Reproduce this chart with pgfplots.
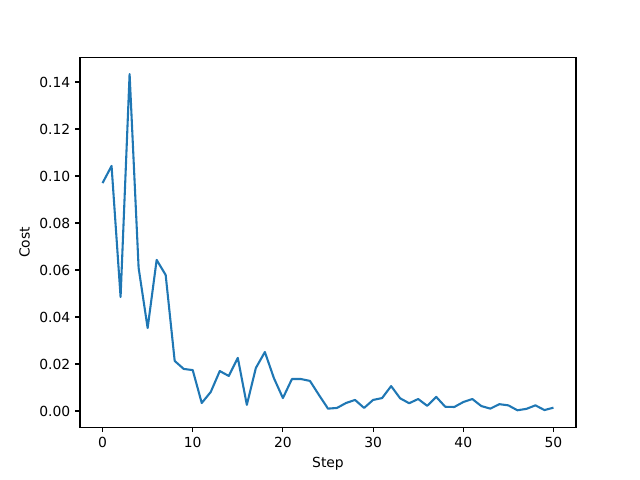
\documentclass[border=0pt]{standalone}
\usepackage{pgfplots}
\pgfplotsset{compat=1.18}
\usepackage{fontspec}
\setmainfont{DejaVu Sans}
\definecolor{mplblue}{HTML}{1F77B4}
\begin{document}
\begin{tikzpicture}
\path[use as bounding box] (-57.6pt,-38.016pt) rectangle (403.2pt,307.584pt);
\begin{axis}[
  at={(0,0)}, anchor=south west,
  scale only axis, width=357.12pt, height=266.112pt,
  xmin=-2.5, xmax=52.5, ymin=-0.0069, ymax=0.1504,
  xtick={0,10,20,30,40,50},
  ytick={0,0.02,0.04,0.06,0.08,0.10,0.12,0.14},
  yticklabel style={/pgf/number format/.cd,fixed,fixed zerofill,precision=2},
  /pgf/number format/assume math mode=true,
  scaled y ticks=false,
  tick align=outside, major tick length=3.5pt,
  tick style={black, line width=0.8pt},
  xtick pos=bottom, ytick pos=left,
  axis line style={line width=0.8pt},
  tick label style={font=\fontsize{10}{12}\selectfont},
  label style={font=\fontsize{10}{12}\selectfont},
  xlabel={Step}, ylabel={Cost},
  xticklabel style={yshift=-0pt},
]
\addplot[mplblue, line width=1.5pt, line join=round] coordinates {
(0,0.0970) (1,0.1043) (2,0.0485) (3,0.1434) (4,0.0609) (5,0.0353) (6,0.0643) (7,0.0579)
(8,0.0213) (9,0.0179) (10,0.0174) (11,0.0034) (12,0.0081) (13,0.0170) (14,0.0149) (15,0.0226)
(16,0.0026) (17,0.0183) (18,0.0251) (19,0.0140) (20,0.0055) (21,0.0136) (22,0.0136) (23,0.0128)
(24,0.0068) (25,0.0010) (26,0.0013) (27,0.0034) (28,0.0047) (29,0.0013) (30,0.0047) (31,0.0055)
(32,0.0106) (33,0.0054) (34,0.0033) (35,0.0051) (36,0.0022) (37,0.0060) (38,0.0018) (39,0.0017)
(40,0.0038) (41,0.0051) (42,0.0021) (43,0.0010) (44,0.0029) (45,0.0024) (46,0.0003) (47,0.0009)
(48,0.0024) (49,0.0004) (50,0.0014)
};
\end{axis}
\end{tikzpicture}
\end{document}
